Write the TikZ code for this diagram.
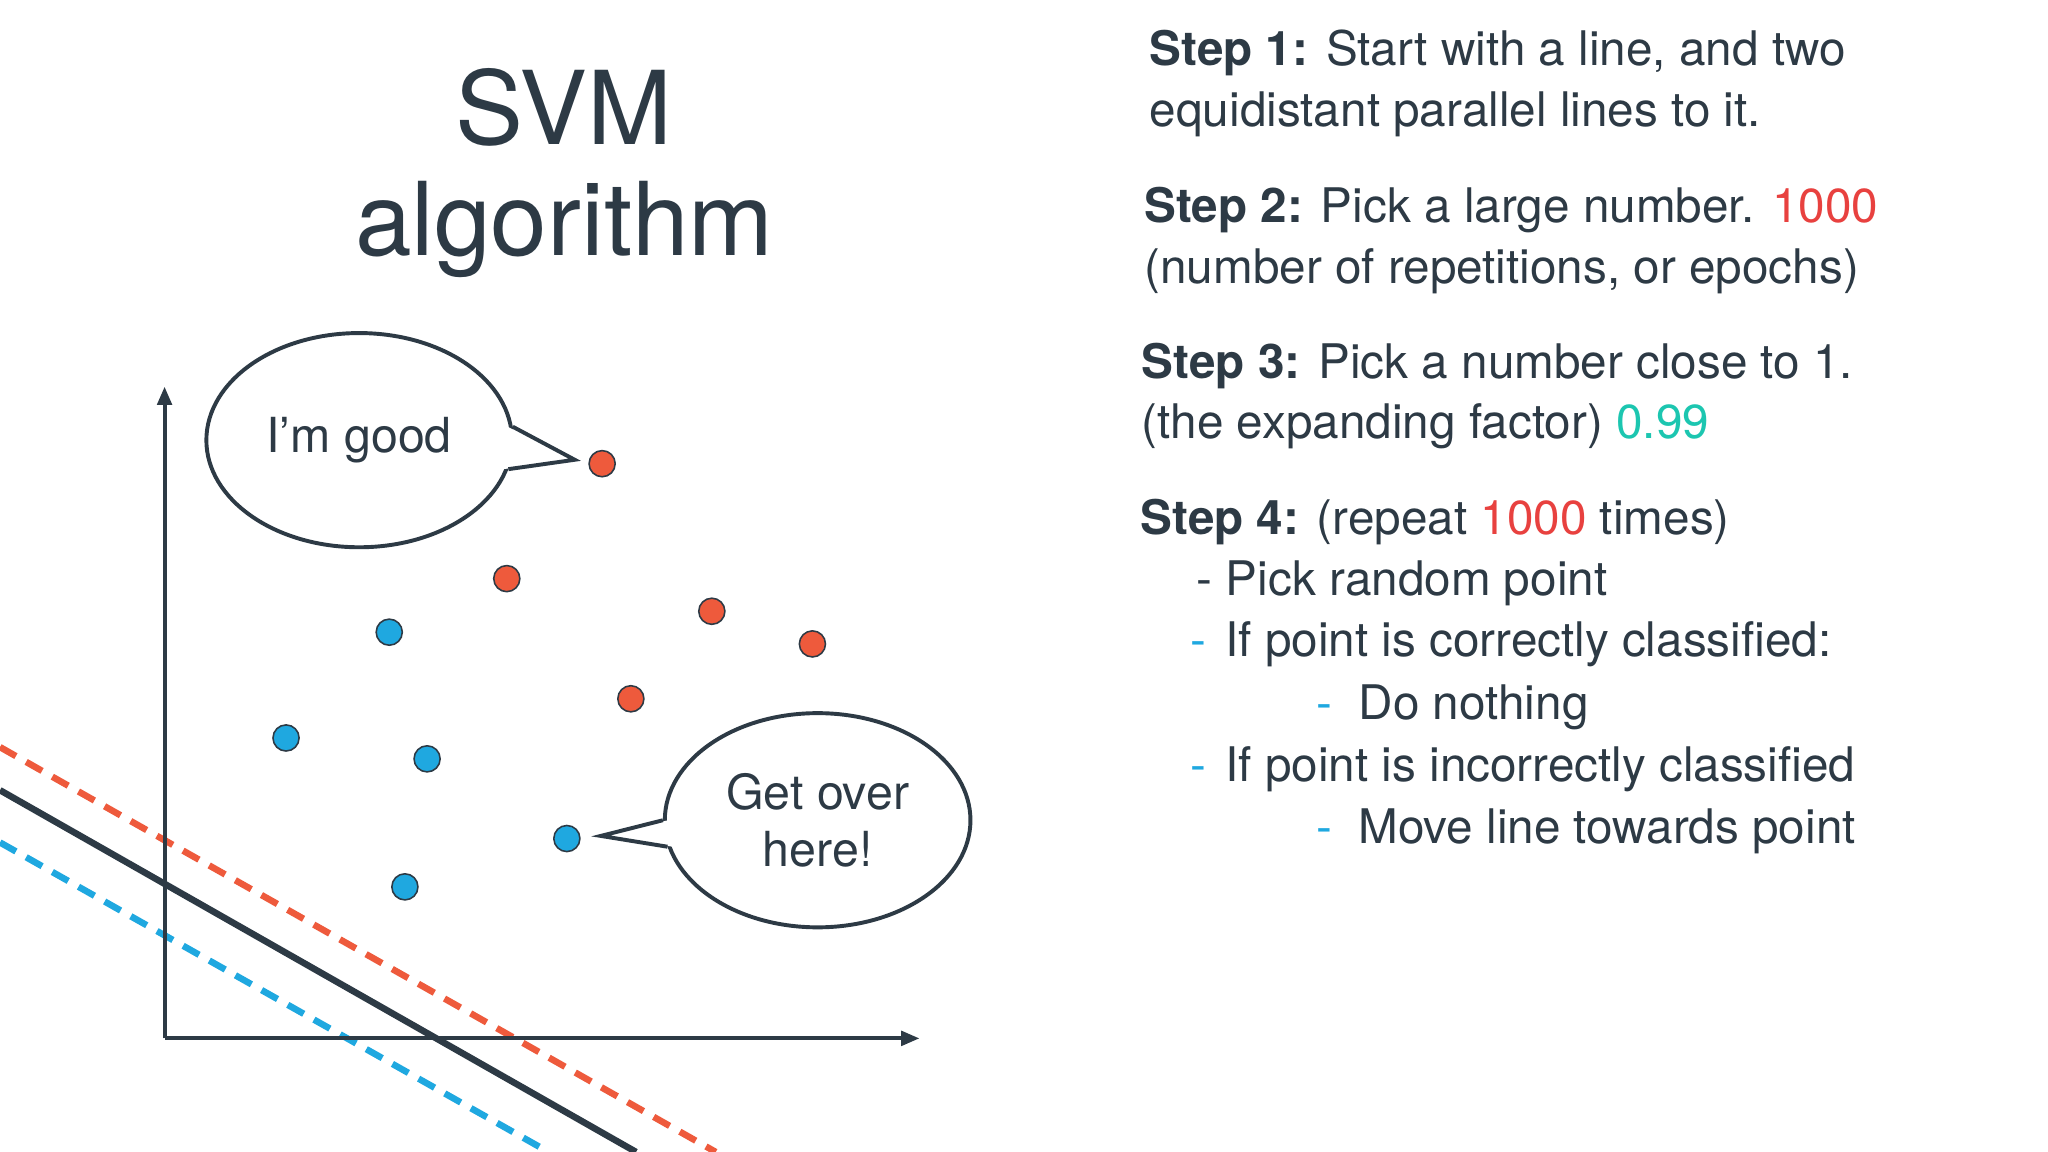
\documentclass[tikz,border=0pt]{standalone}
\usepackage{fontspec}
\setmainfont{TeX Gyre Heros}
\usetikzlibrary{shapes.geometric,arrows.meta}
\definecolor{ink}{HTML}{2D3A45}
\definecolor{pr}{HTML}{EE5A3C}
\definecolor{pb}{HTML}{1FA8E0}
\definecolor{nred}{HTML}{E8413F}
\definecolor{teal}{HTML}{1CC6B0}
\tikzset{
 rpt/.style={circle,fill=pr,draw=ink,line width=1.2pt,minimum size=20pt,inner sep=0},
 bpt/.style={circle,fill=pb,draw=ink,line width=1.2pt,minimum size=20pt,inner sep=0},
 bubble/.style={ellipse,draw=ink,line width=3pt,fill=white,minimum width=234pt,minimum height=164pt,inner sep=0,font=\fontsize{37}{44}\selectfont,text=ink,align=center},
 txt/.style={anchor=base west,inner sep=0,text=ink,font=\fontsize{36.5}{44}\selectfont},
}
\begin{document}
\begin{tikzpicture}[x=1pt,y=-1pt]
\fill[white!98!black!2] (0,0) rectangle (1568,882);
\useasboundingbox (0,0) rectangle (1568,882);
\node[text=ink,font=\fontsize{78}{90}\selectfont] (t1) at (432,82) {SVM};
\node[text=ink,font=\fontsize{78}{90}\selectfont] (t2) at (432,176) {algorithm};
% lines
\begin{scope}
\clip (0,0) rectangle (1568,882);
\coordinate (ra) at (0,572); \coordinate (rb) at (548,882);
\coordinate (ka) at (0,605); \coordinate (kb) at (487,882);
\coordinate (ba) at (0,645); \coordinate (bb) at (420,882);
\draw[pr,line width=5pt,dash pattern=on 14pt off 9pt] (ra)--(rb);
\draw[pb,line width=5pt,dash pattern=on 14pt off 9pt] (ba)--(bb);
\draw[ink,line width=5pt] (ka)--(kb);
\end{scope}
% axes
\coordinate (o) at (126,795); \coordinate (ya) at (126,296); \coordinate (xa) at (704,795);
\draw[ink,line width=3pt,-{Triangle[length=14pt,width=11pt]}] (o)--(ya);
\draw[ink,line width=3pt,-{Triangle[length=14pt,width=11pt]}] (o)--(xa);
% points
\node[rpt] (r1) at (461,355) {};
\node[rpt] (r2) at (388,443) {};
\node[rpt] (r3) at (545,468) {};
\node[rpt] (r4) at (622,493) {};
\node[rpt] (r5) at (483,535) {};
\node[bpt] (c1) at (298,484) {};
\node[bpt] (c2) at (219,565) {};
\node[bpt] (c3) at (327,581) {};
\node[bpt] (c4) at (434,642) {};
\node[bpt] (c5) at (310,679) {};
% bubbles
\node[bubble] (b1) at (275,337) {I’m good};
\coordinate (t1tip) at (440,352);
\fill[white] ([xshift=-4pt]b1.5) -- (t1tip) -- ([xshift=-4pt]b1.-11) -- cycle;
\draw[ink,line width=3pt,line join=miter] (b1.5) -- (t1tip) -- (b1.-11);
\node[bubble] (b2) at (626,628) {Get over\\here!};
\coordinate (t2tip) at (460,640);
\fill[white] ([xshift=4pt]b2.180) -- (t2tip) -- ([xshift=4pt]b2.190) -- cycle;
\draw[ink,line width=3pt,line join=miter] (b2.180) -- (t2tip) -- (b2.190);
% text
\node[txt] (s1a) at (880,50) {\textbf{Step 1:} Start with a line, and two};
\node[txt] (s1b) at (880,97) {equidistant parallel lines to it.};
\node[txt] (s2a) at (876,170) {\textbf{Step 2:} Pick a large number. \textcolor{nred}{1000}};
\node[txt] (s2b) at (876,217) {(number of repetitions, or epochs)};
\node[txt] (s3a) at (874,290) {\textbf{Step 3:} Pick a number close to 1.};
\node[txt] (s3b) at (874,336) {(the expanding factor) \textcolor{teal}{0.99}};
\node[txt] (s4a) at (873,409) {\textbf{Step 4:} (repeat \textcolor{nred}{1000} times)};
\node[txt] (s4b) at (916,456) {- Pick random point};
\node[txt,text=pb] (d1) at (911,503) {-};
\node[txt] (s4c) at (938,503) {If point is correctly classified:};
\node[txt,text=pb] (d2) at (1008,551) {-};
\node[txt] (s4d) at (1040,551) {Do nothing};
\node[txt,text=pb] (d3) at (911,598) {-};
\node[txt] (s4e) at (938,598) {If point is incorrectly classified};
\node[txt,text=pb] (d4) at (1008,646) {-};
\node[txt] (s4f) at (1040,646) {Move line towards point};
\end{tikzpicture}
\end{document}
